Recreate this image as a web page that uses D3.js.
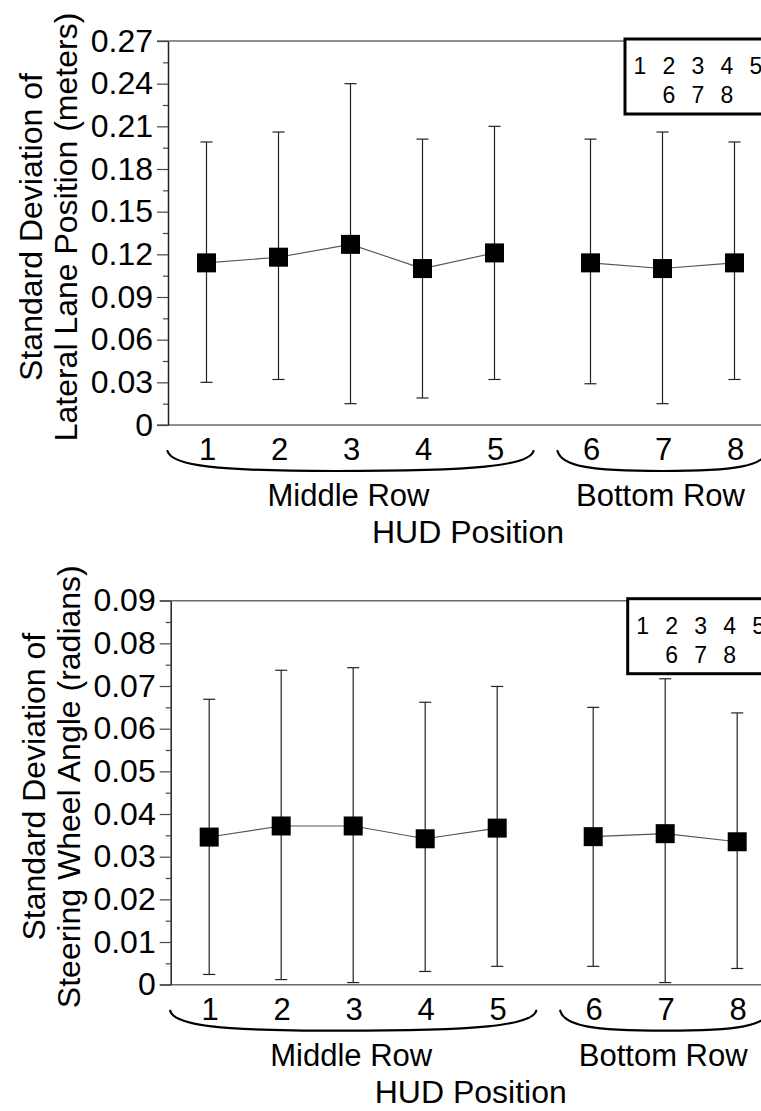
<!DOCTYPE html>
<html>
<head>
<meta charset="utf-8">
<script src="https://cdn.jsdelivr.net/npm/d3@7/dist/d3.min.js"></script>
<style>
  html, body { margin: 0; padding: 0; background: #fff; }
  svg { display: block; }
  text { font-family: "Liberation Sans", Arial, Helvetica, sans-serif; fill: #000; }
</style>
</head>
<body>
<svg id="fig" width="761" height="1111"></svg>
<script>
// HUD positions and the display row each one belongs to
const categories = ["1", "2", "3", "4", "5", "6", "7", "8"];
const rowOf = ["Middle Row", "Middle Row", "Middle Row", "Middle Row", "Middle Row",
               "Bottom Row", "Bottom Row", "Bottom Row"];
const rowNames = ["Middle Row", "Bottom Row"];

// Standard deviation of lateral lane position (m): mean with error-bar limits
const laneMean = [0.114, 0.118, 0.127, 0.110, 0.121, 0.114, 0.110, 0.114];
const laneLow  = [0.030, 0.032, 0.015, 0.019, 0.032, 0.029, 0.015, 0.032];
const laneHigh = [0.199, 0.206, 0.240, 0.201, 0.210, 0.201, 0.206, 0.199];
const laneTicks = ["0", "0.03", "0.06", "0.09", "0.12", "0.15", "0.18", "0.21", "0.24", "0.27"];

// Standard deviation of steering wheel angle (rad): mean with error-bar limits
const steerMean = [0.0346, 0.0372, 0.0372, 0.0342, 0.0367, 0.0347, 0.0354, 0.0335];
const steerLow  = [0.0024, 0.0012, 0.0005, 0.0031, 0.0043, 0.0043, 0.0005, 0.0038];
const steerHigh = [0.0669, 0.0737, 0.0743, 0.0662, 0.0699, 0.0650, 0.0717, 0.0637];
const steerTicks = ["0", "0.01", "0.02", "0.03", "0.04", "0.05", "0.06", "0.07", "0.08", "0.09"];

const titleLine1 = "Standard Deviation of";
const laneTitle2 = "Lateral Lane Position (meters)";
const steerTitle2 = "Steering Wheel Angle (radians)";
const xTitle = "HUD Position";

const svg = d3.select("#fig");
const FONT = 32;
const H = 384;          // plot height
const W = 640;          // plot width (runs past the right edge of the page)

// slot position: one unit per HUD position, plus a third of a unit between rows
const slot = categories.map((c, i) => i + rowNames.indexOf(rowOf[i]) / 3);
const x = d3.scaleLinear().domain([0, 1]).range([38.5, 110.5]);

function bracePath(xa, xb, xc, y0, depth) {
  const y1 = y0 + depth;
  return `M${xa},${y0} C${xa + 4},${y0 + depth * 0.75} ${xa + (xc - xa) * 0.3},${y1} ${xc},${y1}` +
         ` C${xb - (xb - xc) * 0.3},${y1} ${xb - 4},${y0 + depth * 0.75} ${xb},${y0}`;
}

function panel(ox, oy, mean, low, high, tickLabels, title2) {
  const g = svg.append("g").attr("transform", `translate(${ox},${oy})`);
  const tickVals = tickLabels.map(Number);
  const yMax = tickVals[tickVals.length - 1];
  const y = d3.scaleLinear().domain([0, yMax]).range([H, 0]);
  const step = tickVals[1] - tickVals[0];
  const minorVals = d3.range(tickVals.length - 1).map(i => tickVals[i] + step / 2);

  // frame lines: top edge and bottom (x) axis
  g.append("line").attr("x1", -11).attr("x2", W).attr("y1", 0).attr("y2", 0)
    .attr("stroke", "#6b6b6b").attr("stroke-width", 1.4);
  g.append("line").attr("x1", -11).attr("x2", W).attr("y1", H).attr("y2", H)
    .attr("stroke", "#6b6b6b").attr("stroke-width", 1.4);

  // minor ticks
  const minor = g.append("g").call(d3.axisLeft(y).tickValues(minorVals).tickSize(5).tickFormat(""));
  minor.select(".domain").remove();
  minor.selectAll("line").attr("stroke", "#444").attr("stroke-width", 1.2);

  // major ticks with labels
  const ax = g.append("g").call(
    d3.axisLeft(y).tickValues(tickVals).tickSize(11).tickSizeOuter(0).tickPadding(4)
      .tickFormat((d, i) => tickLabels[i]));
  ax.select(".domain").attr("stroke", "#222").attr("stroke-width", 1.5);
  ax.selectAll(".tick line").attr("stroke", "#444").attr("stroke-width", 1.2);
  ax.selectAll("text").attr("font-size", FONT)
    .style("font-family", '"Liberation Sans", Arial, Helvetica, sans-serif').attr("fill", "#000");

  // y-axis title, two lines
  const cy = H / 2 - 6;
  g.append("text").attr("transform", `translate(${-126},${cy}) rotate(-90)`)
    .attr("text-anchor", "middle").attr("font-size", FONT).text(titleLine1);
  g.append("text").attr("transform", `translate(${-91},${cy}) rotate(-90)`)
    .attr("text-anchor", "middle").attr("font-size", FONT).text(title2);

  const pts = categories.map((c, i) => ({ c, i, s: slot[i], m: mean[i], lo: low[i], hi: high[i], row: rowOf[i] }));

  // connecting lines within each row
  const line = d3.line().x(d => x(d.s)).y(d => y(d.m));
  rowNames.forEach(r => {
    g.append("path").datum(pts.filter(d => d.row === r)).attr("d", line)
      .attr("fill", "none").attr("stroke", "#555").attr("stroke-width", 1.1);
  });

  // error bars
  const eb = g.append("g").attr("stroke", "#222").attr("stroke-width", 1.2);
  eb.selectAll("line.v").data(pts).join("line").attr("class", "v")
    .attr("x1", d => x(d.s)).attr("x2", d => x(d.s))
    .attr("y1", d => y(d.hi)).attr("y2", d => y(d.lo));
  eb.selectAll("line.t").data(pts).join("line").attr("class", "t")
    .attr("x1", d => x(d.s) - 6).attr("x2", d => x(d.s) + 6)
    .attr("y1", d => y(d.hi)).attr("y2", d => y(d.hi));
  eb.selectAll("line.b").data(pts).join("line").attr("class", "b")
    .attr("x1", d => x(d.s) - 6).attr("x2", d => x(d.s) + 6)
    .attr("y1", d => y(d.lo)).attr("y2", d => y(d.lo));

  // square markers
  const S = 19;
  g.selectAll("rect.pt").data(pts).join("rect").attr("class", "pt")
    .attr("x", d => x(d.s) - S / 2).attr("y", d => y(d.m) - S / 2)
    .attr("width", S).attr("height", S).attr("fill", "#000");

  // category labels under the axis
  g.selectAll("text.cat").data(pts).join("text").attr("class", "cat")
    .attr("x", d => x(d.s) + 1).attr("y", H + 35)
    .attr("text-anchor", "middle").attr("font-size", 31).text(d => d.c);

  // row braces and row names
  rowNames.forEach((r, ri) => {
    const members = pts.filter(d => d.row === r);
    const x0 = x(members[0].s), x1 = x(members[members.length - 1].s);
    const pad = ri === 0 ? 39 : 33;
    const xa = x0 - pad, xb = x1 + pad;
    const xc = ri === 0 ? xa + (xb - xa) * 0.46 : (xa + xb) / 2;
    g.append("path").attr("d", bracePath(xa, xb, xc, H + 26, 20))
      .attr("fill", "none").attr("stroke", "#000").attr("stroke-width", 2.2)
      .attr("stroke-linecap", "round");
    g.append("text").attr("x", (x0 + x1) / 2 - 2).attr("y", H + 81)
      .attr("text-anchor", "middle").attr("font-size", 31).text(r);
  });

  // x-axis title
  g.append("text").attr("x", 300).attr("y", H + 118)
    .attr("text-anchor", "middle").attr("font-size", FONT).text(xTitle);

  // position key box
  const kx = 457, ky = -2;
  const key = g.append("g").attr("transform", `translate(${kx},${ky})`);
  key.append("rect").attr("x", 0).attr("y", 0).attr("width", 200).attr("height", 75)
    .attr("fill", "#fff").attr("stroke", "#000").attr("stroke-width", 3);
  const keyRows = [categories.slice(0, 5), categories.slice(5)];
  keyRows.forEach((row, ri) => {
    key.selectAll(`text.k${ri}`).data(row).join("text").attr("class", `k${ri}`)
      .attr("x", (d, i) => 15 + (i + ri) * 29).attr("y", ri === 0 ? 35 : 64)
      .attr("text-anchor", "middle").attr("font-size", 23).text(d => d);
  });
}

panel(168, 41, laneMean, laneLow, laneHigh, laneTicks, laneTitle2);
panel(170.7, 600.7, steerMean, steerLow, steerHigh, steerTicks, steerTitle2);
</script>
</body>
</html>
